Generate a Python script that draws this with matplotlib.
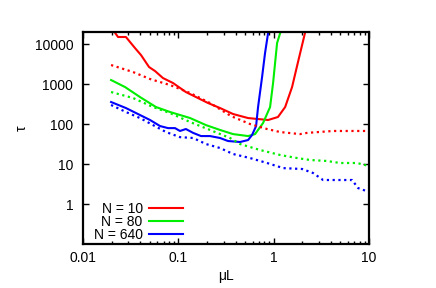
import matplotlib
matplotlib.use("Agg")
import matplotlib.pyplot as plt
from matplotlib.ticker import FixedLocator, FixedFormatter, LogLocator, NullLocator

plt.rcParams['font.family'] = ['Liberation Sans', 'DejaVu Sans']
plt.rcParams['font.size'] = 10

# N = 10
x_red_solid = [0.020, 0.0233, 0.0282, 0.0351, 0.0406, 0.0493, 0.057, 0.069, 0.088, 0.12, 0.153,
               0.205, 0.274, 0.375, 0.539, 0.874, 1.11, 1.32, 1.56, 1.80, 2.13, 2.25]
y_red_solid = [25000, 15000, 15000, 7940, 5300, 2660, 2110, 1410, 1060, 630, 473,
               335, 251, 178, 141, 126, 150, 266, 841, 3550, 18800, 30000]
x_red_dot = [0.0197, 0.0335, 0.0505, 0.0818, 0.133, 0.215, 0.357, 0.565, 0.853, 1.17, 1.89,
             2.24, 4.2, 10.0]
y_red_dot = [2985, 1995, 1334, 944, 596, 335, 158, 100, 75, 63, 56,
             60, 67, 67]

# N = 80
x_green_solid = [0.0197, 0.0276, 0.0396, 0.0583, 0.0818, 0.133, 0.195, 0.274, 0.375, 0.539,
                 0.638, 0.774, 0.917, 0.986, 1.086, 1.17, 1.2]
y_green_solid = [1259, 841, 473, 266, 200, 141, 94, 71, 56, 50,
                 56, 106, 266, 1060, 10600, 18800, 30000]
x_green_dot = [0.0197, 0.0335, 0.0543, 0.0818, 0.133, 0.215, 0.349, 0.444, 0.72, 1.17, 1.76,
               2.41, 3.63, 4.97, 7.5, 10.0]
y_green_dot = [631, 447, 266, 188, 112, 71, 44.7, 31.6, 22.4, 16.8, 14.1,
               12.6, 11.9, 10.6, 10.6, 8.9]

# N = 640
x_blue_solid = [0.0197, 0.0282, 0.0396, 0.0505, 0.0643, 0.078, 0.0923, 0.104, 0.12, 0.143,
                0.173, 0.215, 0.274, 0.332, 0.444, 0.539, 0.593, 0.654, 0.686, 0.756,
                0.812, 0.874, 0.9]
y_blue_solid = [355, 251, 168, 126, 89, 79, 79, 67, 75, 60,
                50, 50, 44.7, 37.6, 35.5, 39.8, 53, 89, 266, 1500,
                5960, 18800, 30000]
x_blue_dot = [0.0197, 0.0282, 0.0396, 0.0543, 0.0743, 0.104, 0.143, 0.195, 0.274, 0.375,
              0.565, 0.853, 1.26, 1.99, 2.59, 3.30, 4.63, 6.65, 7.69, 10.0]
y_blue_dot = [299, 200, 141, 94, 63, 47, 44.7, 31.6, 25.1, 17.8,
              14.1, 10.6, 7.9, 7.5, 5.96, 3.98, 3.98, 3.98, 2.5, 2.0]

labels = ["N = 10", "N = 80", "N = 640"]
colors = ["#ff0000", "#00ee00", "#0000ff"]

x_ticks = [0.01, 0.1, 1, 10]
x_ticklabels = ["0.01", "0.1", "1", "10"]
y_ticks = [1, 10, 100, 1000, 10000]
y_ticklabels = ["1", "10", "100", "1000", "10000"]

W, H = 436, 288
fig = plt.figure(figsize=(W / 100, H / 100), dpi=100)
ax = fig.add_axes([83 / W, 1 - 244 / H, (369 - 83) / W, (244 - 32) / H])

dot = (0, (1, 1.6))
solids = [(x_red_solid, y_red_solid), (x_green_solid, y_green_solid), (x_blue_solid, y_blue_solid)]
dots = [(x_red_dot, y_red_dot), (x_green_dot, y_green_dot), (x_blue_dot, y_blue_dot)]
handles = []
for (xs, ys), lab, c in zip(solids, labels, colors):
    h, = ax.plot(xs, ys, color=c, lw=1.5, label=lab, solid_joinstyle='round')
    handles.append(h)
for (xs, ys), c in zip(dots, colors):
    ax.plot(xs, ys, color=c, lw=1.6, linestyle=dot)

ax.set_xscale('log')
ax.set_yscale('log')
ax.set_xlim(0.01, 10)
ax.set_ylim(0.1, 20000)

ax.xaxis.set_major_locator(FixedLocator(x_ticks))
ax.xaxis.set_major_formatter(FixedFormatter(x_ticklabels))
ax.xaxis.set_minor_locator(LogLocator(base=10, subs=range(2, 10), numticks=20))
ax.yaxis.set_major_locator(FixedLocator(y_ticks))
ax.yaxis.set_major_formatter(FixedFormatter(y_ticklabels))
ax.yaxis.set_minor_locator(NullLocator())

ax.tick_params(which='both', direction='in', top=True, right=True, width=1.0, colors='black')
ax.tick_params(which='major', length=4.5)
ax.tick_params(which='minor', length=2.5)
ax.tick_params(axis='y', which='major', pad=7)
ax.tick_params(axis='x', which='major', pad=5)
ax.tick_params(labelsize=10)
for s in ax.spines.values():
    s.set_linewidth(1.6)

fig.text(22 / W, 1 - 128 / H, "τ", rotation=90, ha='center', va='center', fontsize=10)
fig.text(226 / W, 1 - 276 / H, "μL", ha='center', va='center', fontsize=10)

leg = ax.legend(handles=handles, loc='center right', bbox_to_anchor=((183 - 83) / 286, (244 - 222) / 212),
                frameon=False, markerfirst=False, handlelength=2.45, handletextpad=0.45,
                labelspacing=-0.08, borderpad=0, borderaxespad=0, fontsize=10)

fig.savefig("out.png", dpi=100)
